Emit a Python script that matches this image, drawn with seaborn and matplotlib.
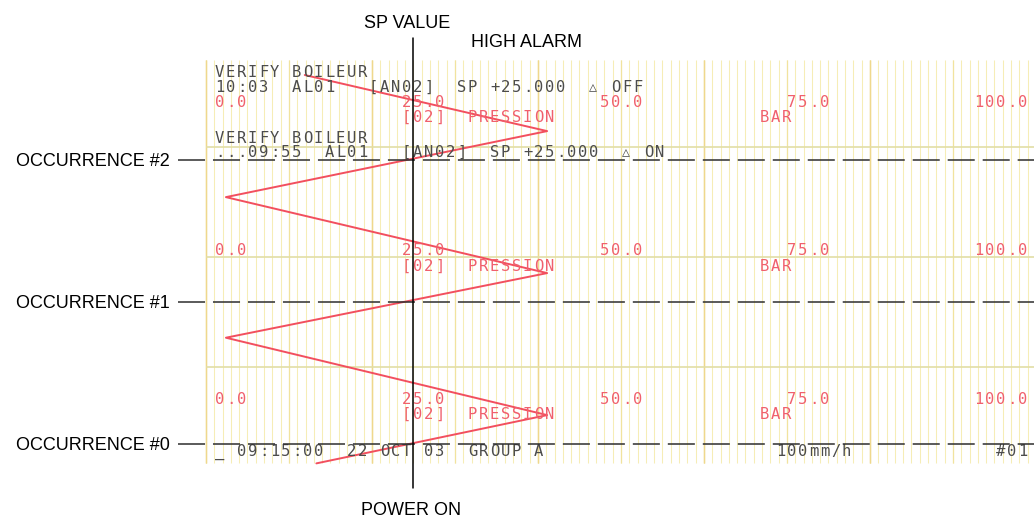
import numpy as np
import pandas as pd
import matplotlib
matplotlib.use("Agg")
import matplotlib.pyplot as plt
import seaborn as sns

# ---- recorded trace: pressure (bar) against elapsed minutes from 09:15:00 ----
pressure_bar = [13.3, 41.1, 2.4, 41.1, 2.4, 41.1, 11.9]
elapsed_min = [-2.8, 4.0, 14.9, 24.0, 34.7, 44.0, 51.9]

# alarm occurrences (elapsed minutes) and their captions
occurrence_min = [0.0, 20.0, 40.0]
occurrence_labels = ["OCCURRENCE #0", "OCCURRENCE #1", "OCCURRENCE #2"]

sp_value = 25.0
scale_ticks = [0.0, 25.0, 50.0, 75.0, 100.0]
scale_texts = ["0.0", "25.0", "50.0", "75.0", "100.0"]
channel_tag = "[02]"
channel_name = "PRESSION"
unit = "BAR"
alarm_off = "10:03  AL01   [AN02]  SP +25.000  \u25b3 OFF"
alarm_on = "...09:55  AL01   [AN02]  SP +25.000  \u25b3 ON"
alarm_msg = "VERIFY BOILEUR"
header = "_ 09:15:00  22 OCT 03  GROUP A"
chart_speed = "100mm/h"
chart_no = "#01"

# ---- geometry of the sheet (pixels per unit) ----
PX_BAR = 8.3
PX_MIN = 7.1
W, H = 1034, 519
X0_PX, T0_PX = 206.0, 443.5          # where 0 bar / 0 min sit on the canvas


def bx(px):
    return (px - X0_PX) / PX_BAR


def ty(px):
    return (T0_PX - px) / PX_MIN


sns.set_style("white")
fig = plt.figure(figsize=(W / 100, H / 100), dpi=100)
ax = fig.add_axes([0, 0, 1, 1])

paper_top, paper_bot = ty(60), ty(463)
paper_right = bx(W)

# ---- chart paper grid ----
grid = np.arange(0, 101, 1)
ax.vlines(grid, paper_bot, paper_top, color="#f6edb6", lw=0.75, zorder=0)
ax.vlines(grid[::10], paper_bot, paper_top, color="#f1e39e", lw=0.9, zorder=0)
ax.vlines(grid[::20], paper_bot, paper_top, color="#efd88c", lw=1.0, zorder=0)
ax.hlines([ty(147), ty(257), ty(367)], 0, paper_right, color="#e2dea6", lw=1.2, zorder=0)

# ---- printed annotations in the recorder's character grid ----
PITCH = 11.0 / PX_BAR
ORIGIN = bx(215)
DARK = "#4c4c4c"
RED = "#f0606d"


def print_row(col, t, s, color):
    for i, ch in enumerate(s):
        if ch == " ":
            continue
        small = ch == "\u25b3"
        ax.text(ORIGIN + (col + i) * PITCH, t + (0.3 if small else 0), ch, color=color,
                fontsize=9.5 if small else 11.2,
                family=["DejaVu Sans Mono", "DejaVu Sans"],
                ha="left", va="baseline", zorder=3)


def print_scale(t_scale, t_name):
    for v, s in zip(scale_ticks, scale_texts):
        print_row(round(v / 25 * 17.3), t_scale, s, RED)
    print_row(17, t_name, channel_tag, RED)
    print_row(23, t_name, channel_name, RED)
    print_row(49.5, t_name, unit, RED)


print_row(0, ty(77), alarm_msg, DARK)
print_row(0, ty(92), alarm_off, DARK)
print_scale(ty(107), ty(122))

print_row(0, ty(143), alarm_msg, DARK)
print_row(0, ty(157), alarm_on, DARK)
print_scale(ty(255), ty(271))

print_scale(ty(404), ty(419))
print_row(0, ty(456), header, DARK)
print_row(51, ty(456), chart_speed, DARK)
print_row(71, ty(456), chart_no, DARK)

# ---- pressure trace ----
trace = pd.DataFrame({"pressure": pressure_bar, "minutes": elapsed_min})
sns.lineplot(data=trace, x="pressure", y="minutes", sort=False, estimator=None,
             color="#f24f5e", lw=1.4, ax=ax, zorder=2)

# ---- occurrence markers ----
label_font = dict(family=["Liberation Sans", "DejaVu Sans"], fontsize=13, color="black")
for t, lab in zip(occurrence_min, occurrence_labels):
    ax.plot([bx(178), paper_right], [t, t], color="#2e2e2e", lw=1.1,
            linestyle=(0, (17.7, 5.2)), zorder=4)
    ax.text(bx(170), t - 0.28, lab, ha="right", va="center", **label_font)

# ---- set point line ----
ax.plot([sp_value, sp_value], [ty(38), ty(488)], color="black", lw=1.1, zorder=4)
ax.text(sp_value - 0.8, ty(28.5), "SP VALUE", ha="center", va="baseline", **label_font)
ax.text(bx(526.5), ty(47), "HIGH ALARM", ha="center", va="baseline", **label_font)
ax.text(sp_value - 0.35, ty(515), "POWER ON", ha="center", va="baseline", **label_font)

ax.set_xlim(bx(0), bx(W))
ax.set_ylim(ty(H), ty(0))
ax.axis("off")

fig.savefig("out.png", dpi=100, facecolor="white")
